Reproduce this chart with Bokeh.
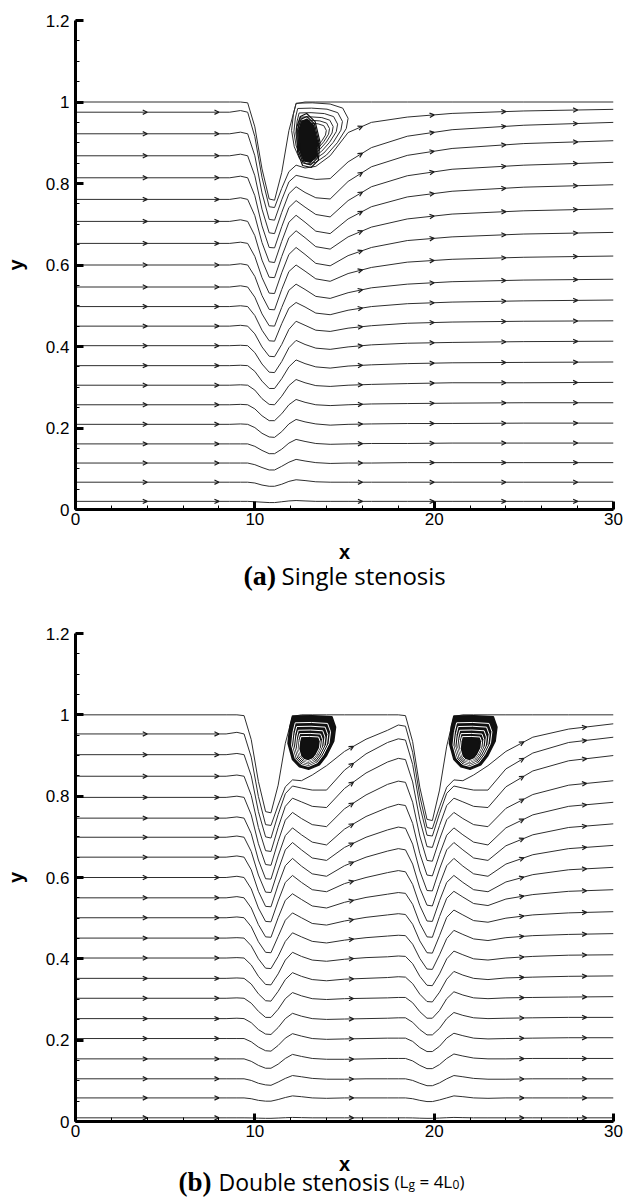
import numpy as np
from bokeh.plotting import figure
from bokeh.layouts import column
from bokeh.models import Range1d, FixedTicker
from bokeh.core.properties import value
from bokeh.embed import file_html
from bokeh.resources import INLINE

# ---------------- Panel (a): single stenosis ----------------
xa = [0, 8.6, 9.2, 9.6, 10.0, 10.4, 10.8, 11.1, 11.5, 11.9, 12.3, 12.8, 13.4, 14.2, 15.2, 16.5, 18.5, 21, 25, 30]
wall_a = [1, 1, 1, 0.998, 0.939, 0.836, 0.762, 0.759, 0.827, 0.930, 0.996, 1, 1, 1, 1, 1, 1, 1, 1, 1]
sa_01 = [0.975, 0.975, 0.979, 0.975, 0.915, 0.815, 0.743, 0.741, 0.788, 0.829, 0.845, 0.838, 0.842, 0.868, 0.925, 0.950, 0.963, 0.972, 0.978, 0.982]
sa_02 = [0.922, 0.922, 0.926, 0.922, 0.868, 0.777, 0.712, 0.710, 0.760, 0.804, 0.820, 0.815, 0.810, 0.812, 0.853, 0.888, 0.916, 0.932, 0.943, 0.950]
sa_03 = [0.868, 0.868, 0.872, 0.868, 0.819, 0.737, 0.679, 0.677, 0.729, 0.775, 0.792, 0.778, 0.765, 0.762, 0.805, 0.841, 0.869, 0.886, 0.898, 0.905]
sa_04 = [0.814, 0.814, 0.818, 0.814, 0.770, 0.696, 0.643, 0.642, 0.694, 0.741, 0.758, 0.742, 0.724, 0.718, 0.758, 0.792, 0.819, 0.835, 0.845, 0.852]
sa_05 = [0.761, 0.761, 0.765, 0.761, 0.721, 0.655, 0.608, 0.606, 0.658, 0.705, 0.722, 0.705, 0.683, 0.677, 0.713, 0.743, 0.767, 0.781, 0.791, 0.797]
sa_06 = [0.707, 0.707, 0.711, 0.707, 0.672, 0.612, 0.570, 0.569, 0.621, 0.667, 0.684, 0.667, 0.645, 0.639, 0.669, 0.693, 0.713, 0.725, 0.733, 0.738]
sa_07 = [0.653, 0.653, 0.656, 0.653, 0.621, 0.569, 0.531, 0.530, 0.581, 0.626, 0.643, 0.626, 0.604, 0.598, 0.623, 0.643, 0.660, 0.669, 0.676, 0.680]
sa_08 = [0.600, 0.600, 0.603, 0.600, 0.572, 0.525, 0.491, 0.490, 0.540, 0.584, 0.600, 0.585, 0.566, 0.560, 0.579, 0.594, 0.607, 0.614, 0.619, 0.622]
sa_09 = [0.546, 0.546, 0.549, 0.546, 0.521, 0.480, 0.451, 0.450, 0.496, 0.538, 0.553, 0.540, 0.523, 0.518, 0.532, 0.544, 0.553, 0.559, 0.563, 0.565]
sa_10 = [0.498, 0.498, 0.500, 0.498, 0.476, 0.440, 0.414, 0.413, 0.456, 0.494, 0.508, 0.497, 0.482, 0.478, 0.489, 0.498, 0.505, 0.509, 0.512, 0.514]
sa_11 = [0.450, 0.450, 0.452, 0.450, 0.431, 0.399, 0.376, 0.375, 0.405, 0.442, 0.462, 0.452, 0.440, 0.437, 0.445, 0.451, 0.457, 0.460, 0.462, 0.463]
sa_12 = [0.402, 0.402, 0.403, 0.402, 0.385, 0.357, 0.337, 0.336, 0.363, 0.397, 0.415, 0.405, 0.396, 0.393, 0.399, 0.404, 0.408, 0.410, 0.412, 0.413]
sa_13 = [0.353, 0.353, 0.354, 0.353, 0.339, 0.315, 0.297, 0.297, 0.321, 0.350, 0.367, 0.358, 0.350, 0.347, 0.352, 0.355, 0.358, 0.360, 0.361, 0.362]
sa_14 = [0.305, 0.305, 0.306, 0.305, 0.293, 0.272, 0.258, 0.257, 0.278, 0.304, 0.319, 0.311, 0.304, 0.302, 0.305, 0.307, 0.309, 0.311, 0.311, 0.312]
sa_15 = [0.257, 0.257, 0.258, 0.257, 0.247, 0.230, 0.218, 0.218, 0.235, 0.257, 0.270, 0.263, 0.257, 0.255, 0.257, 0.259, 0.260, 0.261, 0.262, 0.262]
sa_16 = [0.209, 0.209, 0.210, 0.209, 0.201, 0.187, 0.178, 0.177, 0.191, 0.210, 0.221, 0.215, 0.210, 0.207, 0.209, 0.210, 0.211, 0.211, 0.212, 0.212]
sa_17 = [0.161, 0.161, 0.161, 0.161, 0.155, 0.145, 0.137, 0.137, 0.148, 0.163, 0.172, 0.167, 0.162, 0.160, 0.161, 0.162, 0.162, 0.163, 0.163, 0.163]
sa_18 = [0.114, 0.114, 0.114, 0.114, 0.110, 0.103, 0.097, 0.097, 0.106, 0.116, 0.123, 0.119, 0.115, 0.113, 0.114, 0.114, 0.115, 0.115, 0.115, 0.115]
sa_19 = [0.067, 0.067, 0.067, 0.067, 0.065, 0.060, 0.057, 0.057, 0.062, 0.069, 0.073, 0.071, 0.068, 0.067, 0.067, 0.067, 0.067, 0.067, 0.067, 0.067]
sa_20 = [0.020, 0.020, 0.020, 0.020, 0.019, 0.018, 0.017, 0.017, 0.019, 0.021, 0.022, 0.021, 0.020, 0.020, 0.020, 0.020, 0.020, 0.020, 0.020, 0.020]
vortex_a_x = [12.3, 13.2, 14.2, 14.9, 15.2, 15.1, 14.6, 14.0, 13.4, 12.9, 12.5, 12.2, 12.05, 12.15]
vortex_a_y = [0.997, 0.998, 0.995, 0.985, 0.960, 0.935, 0.900, 0.870, 0.852, 0.848, 0.860, 0.890, 0.930, 0.970]
vortex_a_center = [12.95, 0.905]
core_a_x = [12.45, 12.62, 12.9, 13.28, 13.5, 13.42, 13.1, 12.72, 12.5]
core_a_y = [0.930, 0.952, 0.958, 0.942, 0.902, 0.866, 0.852, 0.856, 0.882]
core_a_center = [12.95, 0.903]
arrows_a = [4.0, 8.0, 16.0, 20.0, 24.0, 28.0]

# ---------------- Panel (b): double stenosis ----------------
xb = [0, 8.4, 9.0, 9.4, 9.8, 10.2, 10.6, 10.9, 11.3, 11.7, 12.1, 12.6, 13.2, 14.0, 15.0, 16.2, 17.4, 18.0,
      18.4, 18.8, 19.2, 19.6, 19.9, 20.3, 20.7, 21.1, 21.6, 22.2, 23.0, 24.0, 25.5, 27.5, 30]
wall_b = [1, 1, 1, 0.998, 0.939, 0.836, 0.762, 0.759, 0.827, 0.930, 0.996, 1, 1, 1, 1, 1, 1, 1,
          0.998, 0.934, 0.822, 0.743, 0.740, 0.815, 0.923, 0.996, 1, 1, 1, 1, 1, 1, 1]
sb_01 = [0.953, 0.953, 0.957, 0.953, 0.896, 0.799, 0.730, 0.728, 0.778, 0.823, 0.840, 0.838, 0.852, 0.875, 0.910, 0.940, 0.962, 0.975, 0.972, 0.908, 0.800, 0.723, 0.720, 0.774, 0.822, 0.840, 0.838, 0.852, 0.875, 0.910, 0.945, 0.965, 0.978]
sb_02 = [0.902, 0.902, 0.905, 0.902, 0.850, 0.762, 0.700, 0.697, 0.755, 0.806, 0.825, 0.820, 0.815, 0.815, 0.864, 0.904, 0.932, 0.941, 0.938, 0.878, 0.776, 0.704, 0.702, 0.757, 0.807, 0.825, 0.820, 0.815, 0.815, 0.867, 0.906, 0.932, 0.945]
sb_03 = [0.849, 0.849, 0.852, 0.849, 0.802, 0.723, 0.666, 0.664, 0.723, 0.775, 0.795, 0.786, 0.775, 0.772, 0.819, 0.857, 0.884, 0.893, 0.890, 0.835, 0.742, 0.676, 0.674, 0.728, 0.777, 0.795, 0.786, 0.775, 0.772, 0.823, 0.862, 0.887, 0.900]
sb_04 = [0.797, 0.797, 0.800, 0.797, 0.754, 0.683, 0.632, 0.630, 0.689, 0.741, 0.760, 0.745, 0.730, 0.725, 0.769, 0.803, 0.829, 0.837, 0.834, 0.785, 0.702, 0.642, 0.640, 0.694, 0.742, 0.760, 0.745, 0.730, 0.725, 0.770, 0.804, 0.827, 0.838]
sb_05 = [0.746, 0.746, 0.749, 0.746, 0.708, 0.643, 0.597, 0.596, 0.653, 0.703, 0.722, 0.705, 0.687, 0.680, 0.719, 0.750, 0.772, 0.780, 0.777, 0.733, 0.659, 0.606, 0.604, 0.657, 0.704, 0.722, 0.705, 0.687, 0.680, 0.722, 0.754, 0.775, 0.785]
sb_06 = [0.699, 0.699, 0.702, 0.699, 0.664, 0.606, 0.564, 0.563, 0.618, 0.668, 0.686, 0.668, 0.648, 0.642, 0.674, 0.699, 0.717, 0.724, 0.721, 0.682, 0.616, 0.568, 0.567, 0.621, 0.668, 0.686, 0.668, 0.648, 0.642, 0.678, 0.705, 0.723, 0.732]
sb_07 = [0.650, 0.650, 0.653, 0.650, 0.619, 0.566, 0.529, 0.528, 0.582, 0.629, 0.647, 0.628, 0.609, 0.603, 0.629, 0.650, 0.665, 0.671, 0.668, 0.633, 0.574, 0.532, 0.530, 0.583, 0.629, 0.647, 0.628, 0.609, 0.603, 0.633, 0.656, 0.671, 0.679]
sb_08 = [0.600, 0.600, 0.603, 0.600, 0.572, 0.525, 0.492, 0.491, 0.542, 0.588, 0.605, 0.588, 0.570, 0.565, 0.585, 0.600, 0.612, 0.617, 0.614, 0.583, 0.531, 0.493, 0.492, 0.543, 0.588, 0.605, 0.588, 0.570, 0.565, 0.589, 0.607, 0.619, 0.625]
sb_09 = [0.550, 0.550, 0.553, 0.550, 0.525, 0.484, 0.454, 0.453, 0.501, 0.544, 0.560, 0.546, 0.530, 0.525, 0.539, 0.551, 0.559, 0.563, 0.561, 0.534, 0.487, 0.454, 0.453, 0.504, 0.549, 0.566, 0.552, 0.536, 0.531, 0.547, 0.558, 0.566, 0.570]
sb_10 = [0.501, 0.501, 0.503, 0.501, 0.479, 0.442, 0.416, 0.415, 0.455, 0.495, 0.513, 0.501, 0.487, 0.483, 0.493, 0.502, 0.508, 0.511, 0.509, 0.485, 0.444, 0.415, 0.414, 0.457, 0.502, 0.520, 0.508, 0.494, 0.490, 0.500, 0.508, 0.513, 0.516]
sb_11 = [0.451, 0.451, 0.452, 0.451, 0.432, 0.400, 0.377, 0.376, 0.406, 0.443, 0.464, 0.454, 0.443, 0.439, 0.446, 0.452, 0.456, 0.458, 0.457, 0.436, 0.401, 0.375, 0.374, 0.410, 0.450, 0.470, 0.460, 0.449, 0.445, 0.452, 0.457, 0.460, 0.462]
sb_12 = [0.402, 0.402, 0.403, 0.402, 0.385, 0.357, 0.337, 0.336, 0.363, 0.397, 0.416, 0.406, 0.397, 0.394, 0.399, 0.403, 0.405, 0.407, 0.406, 0.388, 0.357, 0.335, 0.334, 0.363, 0.400, 0.419, 0.410, 0.400, 0.397, 0.402, 0.406, 0.409, 0.410]
sb_13 = [0.352, 0.352, 0.353, 0.352, 0.338, 0.314, 0.297, 0.296, 0.320, 0.349, 0.366, 0.357, 0.349, 0.346, 0.350, 0.352, 0.354, 0.356, 0.355, 0.339, 0.313, 0.295, 0.294, 0.318, 0.350, 0.369, 0.360, 0.352, 0.349, 0.353, 0.355, 0.357, 0.358]
sb_14 = [0.303, 0.303, 0.304, 0.303, 0.291, 0.271, 0.256, 0.256, 0.276, 0.302, 0.317, 0.309, 0.302, 0.300, 0.302, 0.303, 0.304, 0.305, 0.305, 0.292, 0.270, 0.254, 0.254, 0.273, 0.302, 0.319, 0.311, 0.304, 0.302, 0.304, 0.305, 0.306, 0.307]
sb_15 = [0.253, 0.253, 0.254, 0.253, 0.243, 0.226, 0.215, 0.214, 0.231, 0.253, 0.266, 0.259, 0.253, 0.251, 0.252, 0.253, 0.254, 0.255, 0.255, 0.244, 0.226, 0.213, 0.213, 0.229, 0.253, 0.268, 0.261, 0.255, 0.253, 0.254, 0.255, 0.256, 0.256]
sb_16 = [0.204, 0.204, 0.204, 0.204, 0.196, 0.183, 0.174, 0.173, 0.187, 0.205, 0.216, 0.210, 0.204, 0.202, 0.203, 0.204, 0.205, 0.205, 0.205, 0.197, 0.182, 0.172, 0.172, 0.185, 0.205, 0.217, 0.211, 0.205, 0.203, 0.204, 0.205, 0.206, 0.206]
sb_17 = [0.154, 0.154, 0.154, 0.154, 0.148, 0.138, 0.131, 0.131, 0.141, 0.155, 0.165, 0.160, 0.155, 0.153, 0.153, 0.154, 0.155, 0.155, 0.155, 0.149, 0.138, 0.130, 0.130, 0.140, 0.155, 0.166, 0.161, 0.156, 0.154, 0.154, 0.155, 0.155, 0.155]
sb_18 = [0.105, 0.105, 0.105, 0.105, 0.101, 0.094, 0.090, 0.089, 0.097, 0.106, 0.113, 0.110, 0.106, 0.104, 0.104, 0.105, 0.105, 0.105, 0.105, 0.101, 0.094, 0.088, 0.088, 0.095, 0.105, 0.113, 0.110, 0.106, 0.104, 0.104, 0.105, 0.105, 0.105]
sb_19 = [0.058, 0.058, 0.058, 0.058, 0.056, 0.052, 0.050, 0.050, 0.054, 0.059, 0.063, 0.061, 0.058, 0.057, 0.058, 0.058, 0.058, 0.058, 0.058, 0.056, 0.052, 0.049, 0.049, 0.053, 0.058, 0.063, 0.061, 0.058, 0.057, 0.058, 0.058, 0.058, 0.058]
sb_20 = [0.009, 0.009, 0.009, 0.009, 0.0088, 0.0082, 0.0078, 0.0078, 0.0085, 0.0093, 0.010, 0.0095, 0.009, 0.009, 0.009, 0.009, 0.009, 0.009, 0.009, 0.0088, 0.0082, 0.0078, 0.0078, 0.0085, 0.0093, 0.010, 0.0095, 0.009, 0.009, 0.009, 0.009, 0.009, 0.009]
vortex_b1_x = [12.1, 13.2, 14.3, 14.5, 14.4, 14.0, 13.6, 13.0, 12.5, 12.1, 11.85, 11.95]
vortex_b1_y = [0.997, 0.998, 0.995, 0.970, 0.935, 0.900, 0.877, 0.866, 0.872, 0.890, 0.930, 0.970]
vortex_b1_center = [12.95, 0.905]
vortex_b2_x = [21.1, 22.2, 23.3, 23.5, 23.4, 23.0, 22.6, 22.0, 21.5, 21.1, 20.85, 20.95]
vortex_b2_y = [0.997, 0.998, 0.995, 0.970, 0.935, 0.900, 0.877, 0.866, 0.872, 0.890, 0.930, 0.970]
vortex_b2_center = [21.95, 0.905]
arrows_b = [4.0, 8.0, 15.5, 25.0, 28.5]

y_ticks = [0, 0.2, 0.4, 0.6, 0.8, 1.0, 1.2]
y_tick_labels = ["0", "0.2", "0.4", "0.6", "0.8", "1", "1.2"]
x_ticks = [0, 10, 20, 30]
x_title = "x"
y_title = "y"

caption_a = [("(a)", "serif"), ("Single stenosis", "sans")]
caption_b = [("(b)", "serif"), ("Double stenosis", "sans"), ("(L", "small"), ("g", "sub"),
             ("= 4L", "small"), ("0", "sub"), (")", "small")]

streams_a = [sa_01, sa_02, sa_03, sa_04, sa_05, sa_06, sa_07, sa_08, sa_09, sa_10,
             sa_11, sa_12, sa_13, sa_14, sa_15, sa_16, sa_17, sa_18, sa_19, sa_20]
streams_b = [sb_01, sb_02, sb_03, sb_04, sb_05, sb_06, sb_07, sb_08, sb_09, sb_10,
             sb_11, sb_12, sb_13, sb_14, sb_15, sb_16, sb_17, sb_18, sb_19, sb_20]

LINE = "#2e2e2e"
SANS = "Liberation Sans"
FRAME_L, FRAME_R = 75, 613
SX = (FRAME_R - FRAME_L) / 30.0
BOTTOM = 24


def make_panel(height, top):
    p = figure(width=625, height=height, x_range=Range1d(0, 30), y_range=Range1d(0, 1.2),
               output_backend="svg", toolbar_location=None, title=None,
               min_border_left=FRAME_L, min_border_right=625 - FRAME_R,
               min_border_top=top, min_border_bottom=BOTTOM)
    p.grid.visible = False
    p.outline_line_color = None
    p.background_fill_color = "white"
    p.border_fill_color = "white"
    p.xaxis.ticker = FixedTicker(ticks=x_ticks, minor_ticks=list(range(0, 31, 2)))
    p.yaxis.ticker = FixedTicker(ticks=y_ticks, minor_ticks=[round(0.05 * i, 2) for i in range(25)])
    p.yaxis.major_label_overrides = dict(zip(y_ticks, y_tick_labels))
    for ax in (p.xaxis, p.yaxis):
        ax.axis_line_width = 3
        ax.axis_line_color = "black"
        ax.major_tick_in = 8
        ax.major_tick_out = 0
        ax.minor_tick_in = 4
        ax.minor_tick_out = 0
        ax.major_tick_line_width = 3
        ax.minor_tick_line_width = 1
        ax.major_tick_line_color = "black"
        ax.minor_tick_line_color = "black"
        ax.major_label_text_font = SANS
        ax.major_label_text_font_size = "17px"
        ax.major_label_text_color = "black"
        ax.axis_label_text_font = SANS
        ax.axis_label_text_font_size = "20px"
        ax.axis_label_text_font_style = "bold"
        ax.axis_label_text_color = "black"
    p.yaxis.axis_label = y_title
    p.xaxis.major_label_standoff = 3
    p.yaxis.major_label_standoff = 6
    p.yaxis.axis_label_standoff = 16
    return p


def draw_stream(p, xs, wall, streams, arrows, sy):
    p.line(xs, wall, line_color=LINE, line_width=1.0)
    p.multi_line([xs] * len(streams), streams, line_color=LINE, line_width=1.0)
    axs, ays = [], []
    L = 5.0
    half = 0.45
    for ys in streams:
        for a in arrows:
            y0 = float(np.interp(a, xs, ys))
            y1 = float(np.interp(a + 0.3, xs, ys))
            ym = float(np.interp(a - 0.3, xs, ys))
            th = np.arctan2((y1 - ym) * sy, 0.6 * SX)
            for s in (1, -1):
                ang = th + np.pi + s * half
                axs.append([a + L * np.cos(ang) / SX, a])
                ays.append([y0 + L * np.sin(ang) / sy, y0])
    p.multi_line(axs, ays, line_color="#1a1a1a", line_width=1.2)


def loops(vx, vy, c, scales):
    xs, ys = [], []
    for k in scales:
        xs.append([c[0] + k * (v - c[0]) for v in vx] + [c[0] + k * (vx[0] - c[0])])
        ys.append([c[1] + k * (v - c[1]) for v in vy] + [c[1] + k * (vy[0] - c[1])])
    return xs, ys


def caption_fig(height, x_base, runs, x0_px, cap_base, gaps, big):
    # a text-only strip that shares the panels' horizontal frame (75..613 px); y in px from its top
    c = figure(width=625, height=height, x_range=Range1d(0, 30), y_range=Range1d(height, 0),
               output_backend="svg", toolbar_location=None, title=None,
               min_border_left=FRAME_L, min_border_right=625 - FRAME_R,
               min_border_top=0, min_border_bottom=0,
               x_axis_location=None, y_axis_location=None)
    c.grid.visible = False
    c.outline_line_color = None
    c.text(x=[15.0], y=[x_base], text=[x_title], text_font=value(SANS), text_font_size=value("20px"),
           text_font_style="bold", text_align="center", text_baseline="alphabetic", text_color="black")
    styles = {
        "serif": ("Liberation Serif", big[0], "bold", 0),
        "sans": ("Open Sans", big[1], "normal", 0),
        "small": ("Open Sans", "17px", "normal", 0),
        "sub": ("Open Sans", "12px", "normal", 3),
    }
    x = x0_px
    for (txt, kind), g in zip(runs, gaps):
        font, size, style, drop = styles[kind]
        c.text(x=[(x - FRAME_L) / SX], y=[cap_base + drop], text=[txt], text_font=value(font),
               text_font_size=value(size), text_font_style=style, text_align="left",
               text_baseline="alphabetic", text_color="black")
        x += g
    return c


# ---- panel (a): frame from y=20 to y=509
pa = make_panel(20 + 489 + BOTTOM, 20)
sya = 489 / 1.2
draw_stream(pa, xa, wall_a, streams_a, arrows_a, sya)
lx, ly = loops(vortex_a_x, vortex_a_y, vortex_a_center, [1.0, 0.86, 0.74, 0.63, 0.54, 0.46])
pa.multi_line(lx, ly, line_color=LINE, line_width=1.0)
pa.patch(core_a_x, core_a_y, fill_color="#111111", line_color="#111111", line_width=1.5)
cx, cy = loops(core_a_x, core_a_y, core_a_center, [1.25, 1.12])
pa.multi_line(cx, cy, line_color="#111111", line_width=1.2)
h_a = 20 + 489 + BOTTOM
cap_a = caption_fig(610 - h_a, 18, caption_a, 243, 575 - h_a, [38, 0], ("28px", "24px"))

# ---- panel (b): frame from y=633 to y=1121
pb = make_panel(23 + 488 + BOTTOM, 23)
syb = 488 / 1.2
draw_stream(pb, xb, wall_b, streams_b, arrows_b, syb)
for vx, vy, c in ((vortex_b1_x, vortex_b1_y, vortex_b1_center), (vortex_b2_x, vortex_b2_y, vortex_b2_center)):
    pb.patch(vx, vy, fill_color="#111111", line_color="#111111", line_width=1.5)
    wx, wy = loops(vx, vy, c, [0.82, 0.72, 0.62, 0.53, 0.45])
    pb.multi_line(wx, wy, line_color="white", line_width=1.0)
    kx, ky = loops(vx, vy, c, [0.36])
    pb.patch(kx[0], ky[0], fill_color="#111111", line_color="#111111")
h_b_end = 610 + 23 + 488 + BOTTOM
cap_b = caption_fig(1197 - h_b_end, 18, caption_b, 178, 1181 - h_b_end, [40, 176, 14, 11, 33, 7, 0],
                    ("27px", "23px"))

layout = column(pa, cap_a, pb, cap_b)
open("out.html", "w").write(file_html(layout, INLINE))
